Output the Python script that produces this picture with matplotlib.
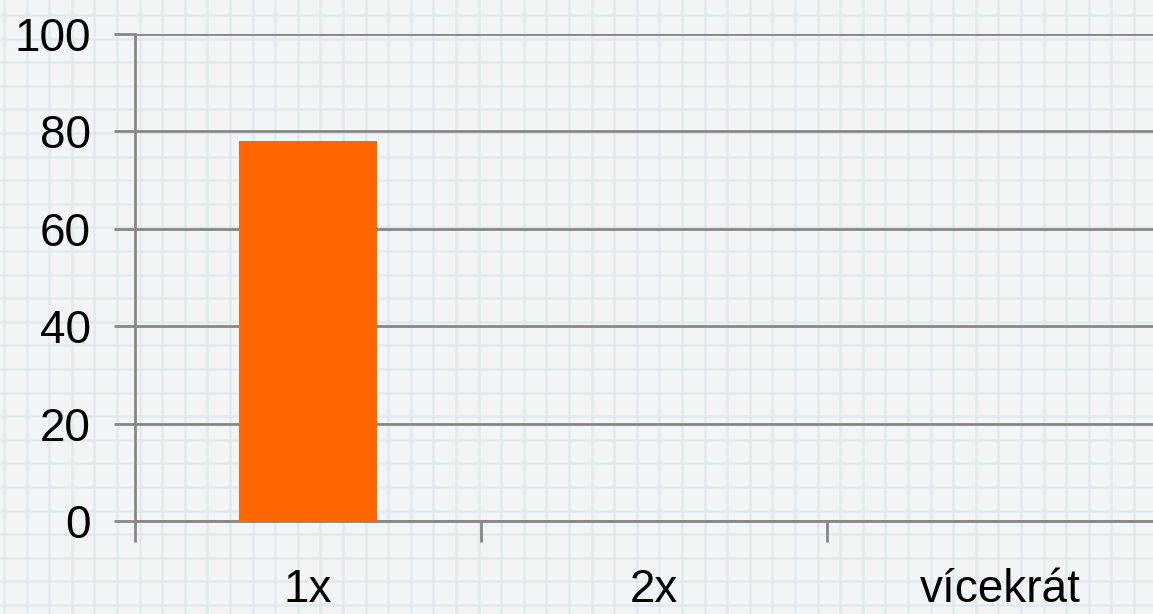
import numpy as np
import matplotlib
matplotlib.use("Agg")
import matplotlib.pyplot as plt

categories = ["1x", "2x", "vícekrát"]
values = [78, 0, 0]

W, H = 1153, 614
plt.rcParams["font.family"] = ["Liberation Sans", "DejaVu Sans"]

fig = plt.figure(figsize=(W / 100, H / 100), dpi=100)
fig.patch.set_facecolor("#f3f4f5")

# graph-paper backdrop
bg = fig.add_axes([0, 0, 1, 1], zorder=-10)
bg.set_xlim(0, W)
bg.set_ylim(H, 0)
bg.set_facecolor("#f3f4f5")
for x in np.arange(4, W, 22.6):
    bg.axvline(x, color="#d9e8ec", lw=1.8, alpha=0.7)
for y in np.arange(15, H, 23.6):
    bg.axhline(y, color="#d9e8ec", lw=1.8, alpha=0.7)
bg.axis("off")

ax = fig.add_axes([135 / W, (H - 521) / H, 1038 / W, 487 / H])
ax.set_facecolor("none")
x = np.arange(len(categories))
ax.bar(x, values, width=0.40, color="#ff6600", zorder=3)

ax.set_xlim(-0.5, len(categories) - 0.5)
ax.set_ylim(0, 100)
ax.set_yticks(range(0, 101, 20))
ax.yaxis.grid(True, color="#878787", lw=2)
ax.set_axisbelow(True)

ax.set_xticks(x - 0.5, minor=False)
ax.set_xticklabels([])
ax.set_xticks(x, minor=True)
ax.set_xticklabels(categories, minor=True)
ax.tick_params(axis="x", which="major", length=15, width=2, color="#878787")
ax.tick_params(axis="x", which="minor", length=0, pad=34, labelsize=33)
ax.tick_params(axis="y", length=15, width=2, color="#878787",
               labelsize=33, pad=17)

for s in ["top", "right"]:
    ax.spines[s].set_visible(False)
for s in ["left", "bottom"]:
    ax.spines[s].set_color("#878787")
    ax.spines[s].set_linewidth(2)

fig.savefig("out.png", dpi=100, facecolor=fig.get_facecolor())
